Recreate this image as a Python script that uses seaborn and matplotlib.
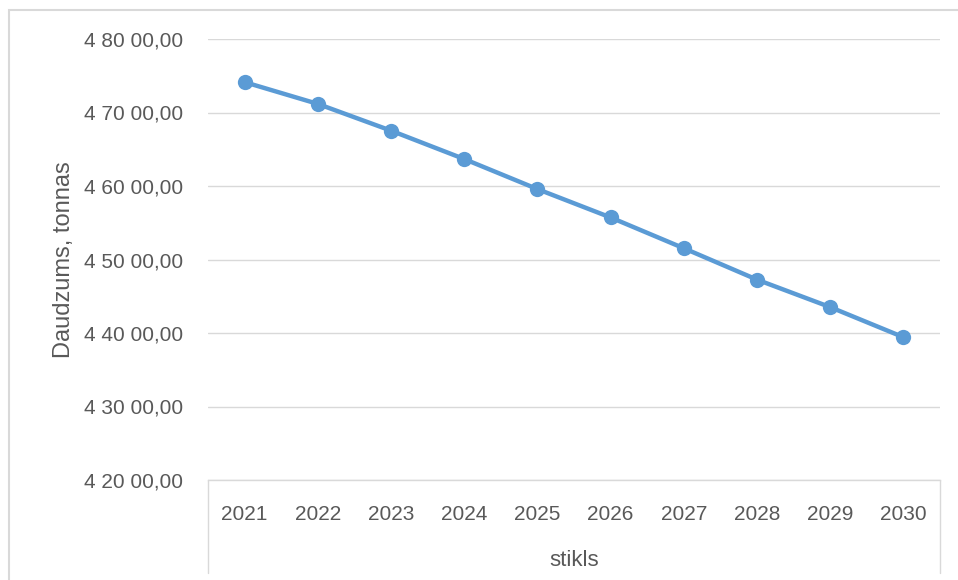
import numpy as np
import pandas as pd
import matplotlib
matplotlib.use('Agg')
import matplotlib.pyplot as plt
from matplotlib.patches import Rectangle
from matplotlib.lines import Line2D
from matplotlib.ticker import FuncFormatter
import seaborn as sns

# data
years = [2021, 2022, 2023, 2024, 2025, 2026, 2027, 2028, 2029, 2030]
amount = [47413, 47117, 46753, 46367, 45958, 45572, 45153, 44726, 44352, 43943]
y_ticks = [42000, 43000, 44000, 45000, 46000, 47000, 48000]
y_label = 'Daudzums, tonnas'
x_label = 'stikls'

df = pd.DataFrame({'year': years, 'amount': amount})

sns.set_style('white')
plt.rcParams['font.family'] = ['Liberation Sans', 'DejaVu Sans']
txt = '#595959'
grid = '#D9D9D9'
blue = '#5B9BD5'

W, H = 958, 580
fig = plt.figure(figsize=(W / 100, H / 100), dpi=100)
ax = fig.add_axes([208 / W, 1 - 480 / H, (940 - 208) / W, (480 - 39) / H])

sns.lineplot(data=df, x='year', y='amount', ax=ax, color=blue, linewidth=3.2,
             marker='o', markersize=11, markeredgewidth=0, zorder=3)

ax.set_xlim(years[0] - 0.5, years[-1] + 0.5)
ax.set_ylim(y_ticks[0], y_ticks[-1])
ax.set_xticks(years)
ax.set_yticks(y_ticks)


def fmt(v, pos):
    s = '%d' % int(round(v))
    return s[0] + ' ' + s[1:3] + ' ' + s[3:] + ',00'


ax.yaxis.set_major_formatter(FuncFormatter(fmt))
ax.grid(axis='y', color=grid, linewidth=1.0)
ax.grid(axis='x', visible=False)
for side in ['left', 'right', 'top']:
    ax.spines[side].set_visible(False)
ax.spines['bottom'].set_color(grid)
ax.spines['bottom'].set_linewidth(1.0)
ax.tick_params(axis='both', length=0, labelsize=15, labelcolor=txt)
ax.tick_params(axis='y', pad=18)
ax.tick_params(axis='x', pad=18)
ax.set_xlabel('')
ax.set_ylabel(y_label, fontsize=17, color=txt, labelpad=6.5)

# category axis box lines below the plot, like the spreadsheet chart
for xp in (208, 940):
    fig.add_artist(Line2D([xp / W, xp / W], [1 - 480 / H, 1 - 573 / H],
                          transform=fig.transFigure, color=grid, linewidth=1.0))
fig.text(574 / W, 1 - 560 / H, x_label, ha='center', va='center',
         fontsize=16, color=txt)

# outer chart frame
fig.add_artist(Rectangle((9 / W, -0.5), 2, 1.5 - 10 / H, transform=fig.transFigure,
                         fill=False, edgecolor=grid, linewidth=1.5))

fig.savefig('out.png', dpi=100)
